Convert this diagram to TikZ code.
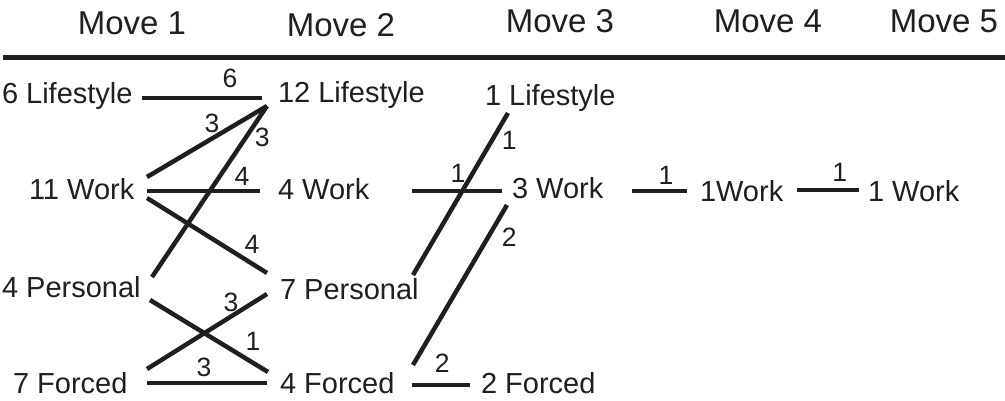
\documentclass[tikz,border=0pt]{standalone}
\usepackage{fontspec}
\setmainfont{Liberation Sans}
\begin{document}
\begin{tikzpicture}[x=1pt,y=1pt,
  hdr/.style={font=\fontsize{33}{33}\selectfont, inner sep=0pt, outer sep=0pt, anchor=base, text=black!88},
  lab/.style={font=\fontsize{29}{29}\selectfont, inner sep=0pt, outer sep=0pt, anchor=base west, text=black!88},
  num/.style={font=\fontsize{26.5}{26.5}\selectfont, inner sep=0pt, outer sep=0pt, text=black!88},
  link/.style={line width=4.5pt, draw=black!88},
  rulestyle/.style={line width=5pt, draw=black!88},
]
\useasboundingbox (0,0) rectangle (1005,-401);

% headers
\node[hdr] (h1) at (132,-35) {Move 1};
\node[hdr] (h2) at (341,-37) {Move 2};
\node[hdr] (h3) at (560,-32.5) {Move 3};
\node[hdr] (h4) at (768,-32.5) {Move 4};
\node[hdr] (h5) at (944,-32.5) {Move 5};
\draw[rulestyle] (3,-57.5) -- (1005,-57.5);

% column 1
\node[lab] (lifeA) at (2,-104) {6 Lifestyle};
\node[lab] (workA) at (29,-200) {11 Work};
\node[lab] (persA) at (2,-298) {4 Personal};
\node[lab] (forcA) at (13,-393) {7 Forced};
% column 2
\node[lab] (lifeB) at (278,-103) {12 Lifestyle};
\node[lab] (workB) at (278,-200) {4 Work};
\node[lab] (persB) at (280,-299) {7 Personal};
\node[lab] (forcB) at (280,-393) {4 Forced};
% column 3
\node[lab] (lifeC) at (485,-106) {1 Lifestyle};
\node[lab] (workC) at (512,-199) {3 Work};
\node[lab] (forcC) at (481,-393) {2 Forced};
% columns 4 and 5
\node[lab] (workD) at (700,-201) {1Work};
\node[lab] (workE) at (868,-201) {1 Work};

% move 1 -> move 2
\draw[link] ([shift={(140pt,6pt)}]lifeA.base west) -- node[num,pos=.733,yshift=20pt]{6} ([shift={(-16pt,5pt)}]lifeB.base west);
\draw[link] ([shift={(118pt,23pt)}]workA.base west) -- node[num,pos=.542,yshift=15.5pt]{3} ([shift={(-11pt,-3pt)}]lifeB.base west);
\draw[link] ([shift={(150pt,21pt)}]persA.base west) -- node[num,pos=.819,xshift=16pt]{3} ([shift={(-11pt,-3pt)}]lifeB.base west);
\draw[link] ([shift={(118pt,9pt)}]workA.base west) -- node[num,pos=.84,yshift=15pt]{4} ([shift={(-18pt,9pt)}]workB.base west);
\draw[link] ([shift={(118pt,2pt)}]workA.base west) -- node[num,pos=.875,yshift=19.5pt]{4} ([shift={(-13pt,26pt)}]persB.base west);
\draw[link] ([shift={(148pt,-2pt)}]persA.base west) -- node[num,pos=.873,yshift=21pt]{1} ([shift={(-12pt,21pt)}]forcB.base west);
\draw[link] ([shift={(134pt,24pt)}]forcA.base west) -- node[num,pos=.7,yshift=14.5pt]{3} ([shift={(-13pt,5pt)}]persB.base west);
\draw[link] ([shift={(134pt,10pt)}]forcA.base west) -- node[num,pos=.475,yshift=16pt]{3} ([shift={(-13pt,10pt)}]forcB.base west);

% move 2 -> move 3
\draw[link] ([shift={(134pt,9pt)}]workB.base west) -- node[num,pos=.51,yshift=18pt]{1} ([shift={(-10pt,8pt)}]workC.base west);
\draw[link] ([shift={(133pt,24pt)}]persB.base west) -- node[num,pos=.833,xshift=17pt]{1} ([shift={(23pt,-7pt)}]lifeC.base west);
\draw[link] ([shift={(133pt,28pt)}]forcB.base west) -- node[num,pos=.8,xshift=21pt]{2} ([shift={(-5pt,-6pt)}]workC.base west);
\draw[link] ([shift={(132pt,8pt)}]forcB.base west) -- node[num,pos=.52,yshift=22pt]{2} ([shift={(-11pt,8pt)}]forcC.base west);

% move 3 -> move 4 -> move 5
\draw[link] ([shift={(120pt,8pt)}]workC.base west) -- node[num,pos=.62,yshift=16pt]{1} ([shift={(-13pt,10pt)}]workD.base west);
\draw[link] ([shift={(97pt,11pt)}]workD.base west) -- node[num,pos=.69,yshift=18pt]{1} ([shift={(-9pt,11pt)}]workE.base west);
\end{tikzpicture}
\end{document}
